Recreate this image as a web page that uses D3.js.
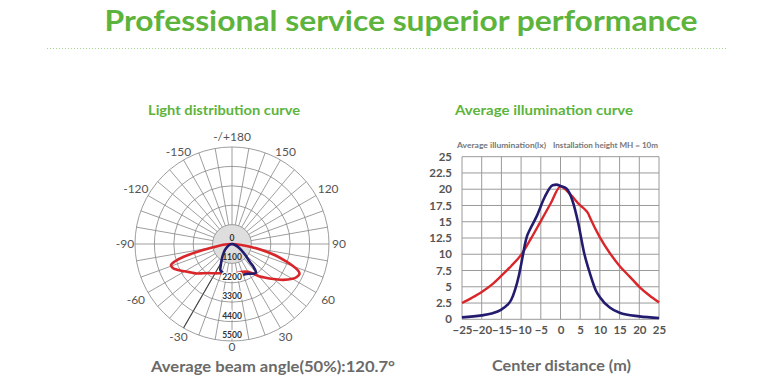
<!DOCTYPE html>
<html><head><meta charset="utf-8">
<script src="https://cdn.jsdelivr.net/npm/d3@7/dist/d3.min.js"></script>
<style>
html,body{margin:0;padding:0;background:#fff;}
svg{display:block;font-family:Lato,"Open Sans",sans-serif;}
</style></head>
<body>
<svg id="c" width="780" height="392"></svg>
<script>
// ---------- DATA ----------
const titleText = "Professional service superior performance";
const leftTitle = "Light distribution curve";
const rightTitle = "Average illumination curve";
const beamText = "Average beam angle(50%):120.7°";
const xAxisTitle = "Center distance (m)";
const chartNote1 = "Average illumination(lx)";
const chartNote2 = "Installation height MH = 10m";

// polar (light distribution), angle in degrees (0 = down, +90 = right), intensity in cd
const ringValues = [1100, 2200, 3300, 4400, 5500];
const ringLabels = ["0", "1100", "2200", "3300", "4400", "5500"];
const angleTicks = [180, -150, 150, -120, 120, -90, 90, -60, 60, -30, 30, 0];
const angleTickLabels = ["-/+180", "-150", "150", "-120", "120", "-90", "90", "-60", "60", "-30", "30", "0"];

const redAngles = [-90, -85, -80, -77, -75, -73, -71, -68, -65, -60, -55, -50, -45, -40, -30, -20, -10, 0, 10, 20, 30, 35, 40, 45, 50, 55, 60, 63, 66, 68, 70, 72, 75, 78, 81, 84];
const redValues = [0, 500, 1100, 2100, 2900, 3400, 3660, 3620, 3450, 3100, 2820, 2600, 2350, 2150, 1920, 1770, 1720, 1700, 1680, 1680, 1820, 2030, 2380, 2700, 3080, 3550, 3950, 4120, 4190, 4050, 3700, 3250, 2620, 1800, 1150, 530];

const blueAngles = [-90, -75, -60, -50, -40, -33, -28, -24, -20, -10, 0, 10, 20, 30, 36, 40, 43, 45, 50, 57, 65, 75];
const blueValues = [0, 100, 300, 520, 800, 1080, 1350, 1620, 1690, 1770, 1850, 1850, 1850, 1950, 2080, 2120, 1800, 1420, 1000, 630, 350, 150];

// illumination curve
const xTicks = [-25, -20, -15, -10, -5, 0, 5, 10, 15, 20, 25];
const yTicks = [0, 2.5, 5, 7.5, 10, 12.5, 15, 17.5, 20, 22.5, 25];
const yTickLabels = ["0", "2.5", "5", "7.5", "10", "12.5", "15", "17.5", "20", "22.5", "25"];

const redDist = [-25, -22.5, -20, -17.5, -15, -12.5, -10, -7.5, -5, -2.5, 0, 2.5, 5, 6, 7, 7.5, 10, 12.5, 15, 17.5, 20, 22.5, 25];
const redLux = [2.5, 3.3, 4.2, 5.3, 6.7, 8.2, 9.9, 12.4, 15.1, 17.8, 20.4, 19.2, 17.5, 17.0, 16.3, 15.6, 12.6, 10.2, 8.2, 6.6, 5.0, 3.7, 2.6];

const blueDist = [-25, -20, -17.5, -15, -13.5, -12.5, -11.5, -10.5, -9.5, -9, -8.5, -8, -6, -4, -2, -1, 0, 1.5, 3, 4.5, 6, 7.5, 9, 10, 12.5, 15, 20, 25];
const blueLux = [0.3, 0.6, 0.9, 1.5, 2.2, 3.0, 4.6, 6.9, 10.0, 11.6, 12.8, 13.5, 15.9, 18.8, 20.6, 20.7, 20.5, 20.1, 18.3, 14.8, 10.2, 7.0, 4.4, 3.4, 1.8, 1.0, 0.45, 0.2];

// ---------- STYLE ----------
const GREEN = "#5db43c";
const GREY_TXT = "#6a6a6a";
const RED = "#d8262a";
const BLUE = "#231c6e";

const svg = d3.select("#c");

// Header
svg.append("text").attr("x", 401).attr("y", 31).attr("text-anchor", "middle")
  .attr("font-size", 29).attr("font-weight", 700).attr("fill", GREEN)
  .attr("textLength", 593).attr("lengthAdjust", "spacingAndGlyphs").text(titleText);
svg.append("line").attr("x1", 47).attr("x2", 727).attr("y1", 48.5).attr("y2", 48.5)
  .attr("stroke", "#a9d394").attr("stroke-width", 1).attr("stroke-dasharray", "1,2");

// section titles
svg.append("text").attr("x", 148).attr("y", 115).attr("font-size", 13).attr("font-weight", 700)
  .attr("fill", GREEN).attr("textLength", 152).attr("lengthAdjust", "spacingAndGlyphs").text(leftTitle);
svg.append("text").attr("x", 455).attr("y", 115).attr("font-size", 13).attr("font-weight", 700)
  .attr("fill", GREEN).attr("textLength", 178).attr("lengthAdjust", "spacingAndGlyphs").text(rightTitle);

// bottom captions
svg.append("text").attr("x", 151).attr("y", 372).attr("font-size", 14.5).attr("font-weight", 700)
  .attr("fill", GREY_TXT).attr("textLength", 244).attr("lengthAdjust", "spacingAndGlyphs").text(beamText);
svg.append("text").attr("x", 492).attr("y", 371).attr("font-size", 14.5).attr("font-weight", 700)
  .attr("fill", GREY_TXT).attr("textLength", 139).attr("lengthAdjust", "spacingAndGlyphs").text(xAxisTitle);

// ---------- POLAR ----------
const cx = 232, cy = 244, R = 97;
const rScale = d3.scaleLinear().domain([0, 5500]).range([0, R]);
const pg = svg.append("g").attr("transform", `translate(${cx},${cy})`);
const toXY = (deg, r) => [r * Math.sin(deg * Math.PI / 180), r * Math.cos(deg * Math.PI / 180)];

// grey center
pg.append("circle").attr("r", rScale(ringValues[0])).attr("fill", "#dedede").attr("stroke", "#8a8a8a").attr("stroke-width", 0.8);
// spokes
d3.range(0, 360, 10).forEach(a => {
  const p0 = toXY(a, rScale(ringValues[0])), p1 = toXY(a, R);
  pg.append("line").attr("x1", p0[0]).attr("y1", p0[1]).attr("x2", p1[0]).attr("y2", p1[1])
    .attr("stroke", "#858585").attr("stroke-width", 0.8);
});
// darker -30 spoke
{
  const p0 = toXY(-30, rScale(ringValues[0]) + 4), p1 = toXY(-30, R);
  pg.append("line").attr("x1", p0[0]).attr("y1", p0[1]).attr("x2", p1[0]).attr("y2", p1[1])
    .attr("stroke", "#444").attr("stroke-width", 1.1);
}
// rings
ringValues.slice(1).forEach(v => {
  pg.append("circle").attr("r", rScale(v)).attr("fill", "none").attr("stroke", "#858585").attr("stroke-width", 0.8);
});
// angle labels
angleTicks.forEach((a, i) => {
  const off = a === 0 ? 6 : (Math.abs(a) === 60 || Math.abs(a) === 120 ? 14 : 10);
  const p = toXY(a, R + off);
  pg.append("text").attr("x", p[0]).attr("y", p[1]).attr("dy", "0.35em").attr("text-anchor", "middle")
    .attr("font-size", 12).attr("fill", "#555").text(angleTickLabels[i]);
});

// curves
const radial = d3.lineRadial()
  .angle(d => Math.PI - d[0] * Math.PI / 180)
  .radius(d => rScale(d[1]))
  .curve(d3.curveCatmullRomClosed.alpha(0.5));
pg.append("path").attr("d", radial(redAngles.map((a, i) => [a, redValues[i]])))
  .attr("fill", "none").attr("stroke", RED).attr("stroke-width", 2.6);
pg.append("path").attr("d", radial(blueAngles.map((a, i) => [a, blueValues[i]])))
  .attr("fill", "none").attr("stroke", BLUE).attr("stroke-width", 2.6);

// ring labels
[0].concat(ringValues).forEach((v, i) => {
  const yy = i === 0 ? -6 : rScale(v) - 6;
  pg.append("text").attr("x", 0).attr("y", yy).attr("dy", "0.35em").attr("text-anchor", "middle")
    .attr("font-size", 8.5).attr("font-weight", 700).attr("fill", "#333")
    .attr("stroke", i === 0 || i === 1 ? "none" : "#fff").attr("stroke-width", 2.5).attr("paint-order", "stroke")
    .text(ringLabels[i]);
});

// ---------- ILLUMINATION ----------
const x = d3.scaleLinear().domain([-25, 25]).range([462, 659]);
const y = d3.scaleLinear().domain([0, 25]).range([319.3, 156.7]);
const ig = svg.append("g");

xTicks.forEach(t => ig.append("line").attr("x1", x(t)).attr("x2", x(t)).attr("y1", y(0)).attr("y2", y(25))
  .attr("stroke", "#9a9a9a").attr("stroke-width", 1));
yTicks.forEach(t => ig.append("line").attr("x1", x(-25)).attr("x2", x(25)).attr("y1", y(t)).attr("y2", y(t))
  .attr("stroke", "#9a9a9a").attr("stroke-width", 1));

const yAxis = d3.axisLeft(y).tickValues(yTicks).tickFormat((d, i) => yTickLabels[i]).tickSize(0).tickPadding(10);
const ya = ig.append("g").attr("transform", `translate(${x(-25)},0)`).call(yAxis);
ya.select(".domain").remove();
ya.selectAll("text").attr("font-size", 11.5).attr("font-weight", 700).attr("fill", "#555").attr("font-family", "Lato,sans-serif");

const xAxis = d3.axisBottom(x).tickValues(xTicks).tickSize(0).tickPadding(7);
const xa = ig.append("g").attr("transform", `translate(0,${y(0)})`).call(xAxis);
xa.select(".domain").remove();
xa.selectAll("text").attr("font-size", 11.5).attr("font-weight", 700).attr("fill", "#555").attr("font-family", "Lato,sans-serif");

ig.append("text").attr("x", 457).attr("y", 148).attr("font-size", 6.8).attr("font-weight", 700).attr("fill", "#777")
  .attr("textLength", 89).attr("lengthAdjust", "spacingAndGlyphs").text(chartNote1);
ig.append("text").attr("x", 553).attr("y", 148).attr("font-size", 6.8).attr("font-weight", 700).attr("fill", "#777")
  .attr("textLength", 105).attr("lengthAdjust", "spacingAndGlyphs").text(chartNote2);

const line = d3.line().x(d => x(d[0])).y(d => y(d[1])).curve(d3.curveMonotoneX);
ig.append("path").attr("d", line(redDist.map((d, i) => [d, redLux[i]])))
  .attr("fill", "none").attr("stroke", RED).attr("stroke-width", 2.4);
ig.append("path").attr("d", line(blueDist.map((d, i) => [d, blueLux[i]])))
  .attr("fill", "none").attr("stroke", BLUE).attr("stroke-width", 2.6);
</script>
</body></html>
